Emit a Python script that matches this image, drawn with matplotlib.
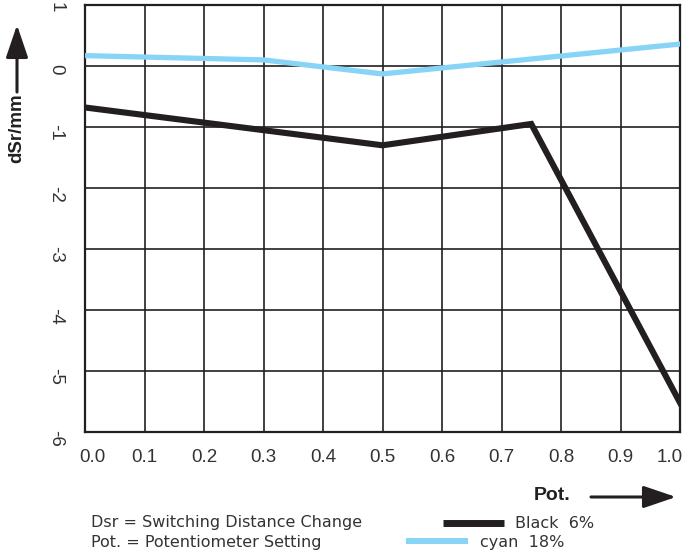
import matplotlib
matplotlib.use("Agg")
import matplotlib.pyplot as plt
import matplotlib.transforms as mtransforms

# values
pot_black = [0.0, 0.5, 0.75, 1.0]
dsr_black = [-0.68, -1.30, -0.95, -5.52]
pot_cyan = [0.0, 0.3, 0.5, 1.0]
dsr_cyan = [0.17, 0.10, -0.13, 0.36]

x_ticks = [0.0, 0.1, 0.2, 0.3, 0.4, 0.5, 0.6, 0.7, 0.8, 0.9, 1.0]
x_labels = ["0.0", "0.1", "0.2", "0.3", "0.4", "0.5", "0.6", "0.7", "0.8", "0.9", "1.0"]
y_ticks = [1, 0, -1, -2, -3, -4, -5, -6]
y_labels = ["1", "0", "-1", "-2", "-3", "-4", "-5", "-6"]

W, H = 684, 555
BLACK = "#231f20"
CYAN = "#87d4f6"


def fx(px):
    return px / W


def fy(py):
    return 1 - py / H


def shift(px, py):
    return mtransforms.ScaledTranslation(px / 100, py / 100, fig.dpi_scale_trans)


fig = plt.figure(figsize=(W / 100, H / 100), dpi=100)
ax = fig.add_axes([fx(85), fy(432), fx(680) - fx(85), fy(5) - fy(432)])

ax.plot(pot_cyan, dsr_cyan, color=CYAN, lw=3.8, solid_joinstyle="miter", zorder=3)
ax.plot(pot_black, dsr_black, color=BLACK, lw=4.4, solid_joinstyle="miter", zorder=4)

ax.set_xlim(0, 1)
ax.set_ylim(-6, 1)
ax.set_xticks(x_ticks)
ax.set_xticklabels(x_labels, fontsize=13.5, family="Liberation Sans", color="#333333")
ax.set_yticks(y_ticks)
ax.set_yticklabels(y_labels, fontsize=13.5, family="Liberation Sans", rotation=-90,
                   color="#333333")
ax.tick_params(axis="x", length=0, pad=12)
ax.tick_params(axis="y", length=0, pad=15)
ax.grid(True, color=BLACK, lw=1.2)
ax.set_axisbelow(True)
for s in ax.spines.values():
    s.set_linewidth(1.6)
    s.set_color(BLACK)

# nudge labels like the original
lbls = ax.get_xticklabels()
lbls[0].set_transform(lbls[0].get_transform() + shift(7, 0))
lbls[-1].set_transform(lbls[-1].get_transform() + shift(-10, 0))
for lb in ax.get_yticklabels():
    lb.set_transform(lb.get_transform() + shift(0, -4))

arrow_style = "-|>,head_length=1.0,head_width=0.34"

# y axis label with arrow
fig.text(fx(17), fy(128), "dSr/mm", rotation=90, fontsize=13.5, fontweight="bold",
         family="Liberation Sans", ha="center", va="center", color=BLACK)
fig.add_artist(matplotlib.patches.FancyArrowPatch(
    (fx(17), fy(92)), (fx(17), fy(25)), transform=fig.transFigure,
    arrowstyle=arrow_style, mutation_scale=20,
    lw=2.2, color=BLACK, shrinkA=0, shrinkB=0))

# x axis label with arrow
fig.text(fx(552), fy(496), "Pot.", fontsize=14, fontweight="bold",
         family="Liberation Sans", ha="center", va="center", color=BLACK)
fig.add_artist(matplotlib.patches.FancyArrowPatch(
    (fx(591), fy(497)), (fx(676), fy(497)), transform=fig.transFigure,
    arrowstyle=arrow_style, mutation_scale=20,
    lw=2.2, color=BLACK, shrinkA=0, shrinkB=0))

# notes and legend
fig.text(fx(91), fy(523), "Dsr = Switching Distance Change", fontsize=11.5,
         family="DejaVu Sans", ha="left", va="center", color="#333333")
fig.text(fx(91), fy(542), "Pot. = Potentiometer Setting", fontsize=11.5,
         family="DejaVu Sans", ha="left", va="center", color="#333333")

fig.add_artist(plt.Line2D([fx(443), fx(504)], [fy(523), fy(523)], color=BLACK, lw=5,
                          solid_capstyle="butt"))
fig.text(fx(515), fy(523), "Black  6%", fontsize=11.5, family="DejaVu Sans",
         ha="left", va="center", color="#333333")
fig.add_artist(plt.Line2D([fx(406), fx(468)], [fy(541), fy(541)], color=CYAN, lw=4.3,
                          solid_capstyle="butt"))
fig.text(fx(480), fy(542), "cyan  18%", fontsize=11.5, family="DejaVu Sans",
         ha="left", va="center", color="#333333")

fig.savefig("out.png", dpi=100)
